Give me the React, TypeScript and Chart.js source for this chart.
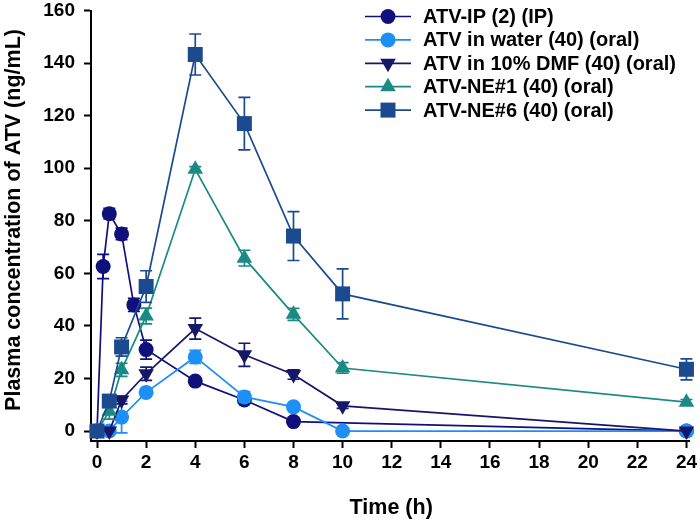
import React, { useEffect, useRef } from 'react';
import { Chart, registerables } from 'chart.js';

Chart.register(...registerables);

// ---- data ----
const ipTimes = [0, 0.25, 0.5, 1, 1.5, 2, 4, 6, 8, 24];
const ipMean = [0, 62.6, 82.7, 75, 48, 31, 19, 11.8, 3.6, 0];
const ipSd = [0, 4.6, 2, 2.2, 2.5, 3.6, 1, 1, 0.5, 0];

const oralTimes = [0, 0.5, 1, 2, 4, 6, 8, 10, 24];
const waterMean = [0, 0, 5.3, 14.7, 28.2, 13, 9.2, 0, 0];
const waterSd = [0, 0, 6, 1, 2.5, 2, 1, 0, 0];
const dmfMean = [0, 0, 11.8, 21.8, 39, 29, 21.5, 9.6, 0];
const dmfSd = [0, 0, 1.5, 2.5, 4, 4.4, 1.8, 1, 0];
const ne1Mean = [0, 7.5, 23.3, 43.8, 99.6, 65.8, 44.4, 24, 11];
const ne1Sd = [0, 3, 2.5, 3, 1, 3, 2.3, 2, 1];
const ne6Mean = [0, 11.4, 32, 55, 143.3, 117, 74.2, 52.2, 23.5];
const ne6Sd = [0, 1, 3.5, 6, 7.8, 10, 9.3, 9.5, 4];

const seriesLabels = [
  'ATV-IP (2) (IP)',
  'ATV in water (40) (oral)',
  'ATV in 10% DMF (40) (oral)',
  'ATV-NE#1 (40) (oral)',
  'ATV-NE#6 (40) (oral)',
];
const seriesColors = ['#10107c', '#1e8ff5', '#17176a', '#1a8a84', '#1b4b8e'];
const seriesMarkers = ['circle', 'circle', 'triangleDown', 'triangle', 'rect'];

const xTicks = [0, 2, 4, 6, 8, 10, 12, 14, 16, 18, 20, 22, 24];
const yTicks = [0, 20, 40, 60, 80, 100, 120, 140, 160];

const xTitle = 'Time (h)';
const yTitle = 'Plasma concentration of ATV (ng/mL)';

const FONT = '"Liberation Sans", Arial, sans-serif';

function drawMarker(ctx: CanvasRenderingContext2D, kind: string, x: number, y: number, color: string) {
  ctx.save();
  ctx.fillStyle = color;
  ctx.beginPath();
  const r = 9;
  if (kind === 'circle') {
    ctx.arc(x, y, 7.5, 0, Math.PI * 2);
  } else if (kind === 'rect') {
    ctx.rect(x - 7.5, y - 7.5, 15, 15);
  } else if (kind === 'triangle') {
    ctx.moveTo(x, y - r);
    ctx.lineTo(x + r * 0.866, y + r / 2);
    ctx.lineTo(x - r * 0.866, y + r / 2);
  } else {
    ctx.moveTo(x, y + r);
    ctx.lineTo(x + r * 0.866, y - r / 2);
    ctx.lineTo(x - r * 0.866, y - r / 2);
  }
  ctx.closePath();
  ctx.fill();
  ctx.restore();
}

const errorBarPlugin = {
  id: 'errorBars',
  afterDatasetDraw(chart: any, args: any) {
    const ds = chart.data.datasets[args.index];
    const sd: number[] = ds.sd || [];
    const ctx = chart.ctx;
    const xs = chart.scales.x;
    const ys = chart.scales.y;
    ctx.save();
    ctx.strokeStyle = ds.borderColor;
    ctx.lineWidth = 1.7;
    ds.data.forEach((p: any, i: number) => {
      const e = sd[i];
      if (!e || e < 0.3) return;
      const px = xs.getPixelForValue(p.x);
      const top = ys.getPixelForValue(p.y + e);
      const bot = ys.getPixelForValue(p.y - e);
      ctx.beginPath();
      ctx.moveTo(px, top);
      ctx.lineTo(px, bot);
      ctx.moveTo(px - 6, top);
      ctx.lineTo(px + 6, top);
      ctx.moveTo(px - 6, bot);
      ctx.lineTo(px + 6, bot);
      ctx.stroke();
    });
    ctx.restore();
  },
};

const legendPlugin = {
  id: 'customLegend',
  afterDraw(chart: any) {
    const ctx = chart.ctx;
    ctx.save();
    seriesLabels.forEach((label, i) => {
      const y = 16.5 + i * 23.4;
      const color = seriesColors[i];
      ctx.strokeStyle = color;
      ctx.lineWidth = 1.7;
      ctx.beginPath();
      ctx.moveTo(365, y);
      ctx.lineTo(411, y);
      ctx.stroke();
      drawMarker(ctx, seriesMarkers[i], 388, y, color);
      ctx.fillStyle = '#000';
      ctx.font = `bold 20px ${FONT}`;
      ctx.textAlign = 'left';
      ctx.textBaseline = 'middle';
      ctx.fillText(label, 423, y + 1);
    });
    ctx.restore();
  },
};

const axisTitlePlugin = {
  id: 'axisTitles',
  afterDraw(chart: any) {
    const ctx = chart.ctx;
    ctx.save();
    ctx.fillStyle = '#000';
    ctx.font = `bold 21.5px ${FONT}`;
    ctx.textAlign = 'center';
    ctx.textBaseline = 'middle';
    const xs = chart.scales.x;
    ctx.fillText(xTitle, (xs.left + xs.right) / 2 + 1, 508);
    ctx.translate(14, 220);
    ctx.rotate(-Math.PI / 2);
    ctx.fillText(yTitle, 0, 0);
    ctx.restore();
  },
};

function toPoints(times: number[], vals: number[]) {
  return times.map((t, i) => ({ x: t, y: vals[i] }));
}

const pointStyleFor = (k: string) => (k === 'triangleDown' ? 'triangle' : k);
const radiusFor = (k: string) => (k === 'circle' ? 7.5 : k === 'rect' ? 10.6 : 9);

export default function App() {
  const ref = useRef<HTMLCanvasElement | null>(null);

  useEffect(() => {
    if (!ref.current) return;
    const times = [ipTimes, oralTimes, oralTimes, oralTimes, oralTimes];
    const means = [ipMean, waterMean, dmfMean, ne1Mean, ne6Mean];
    const sds = [ipSd, waterSd, dmfSd, ne1Sd, ne6Sd];
    const datasets: any[] = seriesLabels.map((label, i) => ({
      label,
      data: toPoints(times[i], means[i]),
      sd: sds[i],
      borderColor: seriesColors[i],
      backgroundColor: seriesColors[i],
      borderWidth: 1.7,
      pointStyle: pointStyleFor(seriesMarkers[i]),
      pointRotation: seriesMarkers[i] === 'triangleDown' ? 180 : 0,
      pointRadius: radiusFor(seriesMarkers[i]),
      pointBorderWidth: 0,
      pointBackgroundColor: seriesColors[i],
      tension: 0,
      order: seriesLabels.length - 1 - i,
      clip: false,
    }));

    const tickFont = { family: FONT, size: 19, weight: 'bold' as const };

    const chart = new Chart(ref.current, {
      type: 'line',
      data: { datasets },
      options: {
        animation: false,
        responsive: false,
        maintainAspectRatio: false,
        layout: { padding: 0 },
        plugins: { legend: { display: false }, tooltip: { enabled: false } },
        scales: {
          x: {
            type: 'linear',
            min: -0.245,
            max: 24.12,
            afterBuildTicks: (s: any) => {
              s.ticks = xTicks.map((v) => ({ value: v }));
            },
            afterFit: (s: any) => {
              s.height = 87;
              s.paddingLeft = 0;
              s.paddingRight = 10;
            },
            grid: {
              display: true,
              drawOnChartArea: false,
              drawTicks: true,
              tickLength: 7,
              tickWidth: 2,
              tickColor: '#000',
            },
            border: { display: true, color: '#000', width: 2 },
            ticks: {
              color: '#000',
              font: tickFont,
              padding: 3,
              maxRotation: 0,
              autoSkip: false,
              callback: (v: any) => String(v),
            },
            title: { display: false },
          },
          y: {
            type: 'linear',
            min: -3.79,
            max: 160,
            afterBuildTicks: (s: any) => {
              s.ticks = yTicks.map((v) => ({ value: v }));
            },
            afterFit: (s: any) => {
              s.width = 91;
              s.paddingTop = 9;
              s.paddingBottom = 0;
            },
            grid: {
              display: true,
              drawOnChartArea: false,
              drawTicks: true,
              tickLength: 7,
              tickWidth: 2,
              tickColor: '#000',
            },
            border: { display: true, color: '#000', width: 2 },
            ticks: {
              color: '#000',
              font: tickFont,
              padding: 9,
              callback: (v: any) => String(v),
            },
            title: { display: false },
          },
        },
      },
      plugins: [errorBarPlugin, legendPlugin, axisTitlePlugin],
    } as any);

    return () => chart.destroy();
  }, []);

  return (
    <div style={{ position: 'fixed', left: 0, top: 0, width: 700, height: 528, background: '#fff' }}>
      <canvas ref={ref} width={700} height={528} style={{ display: 'block' }} />
    </div>
  );
}
